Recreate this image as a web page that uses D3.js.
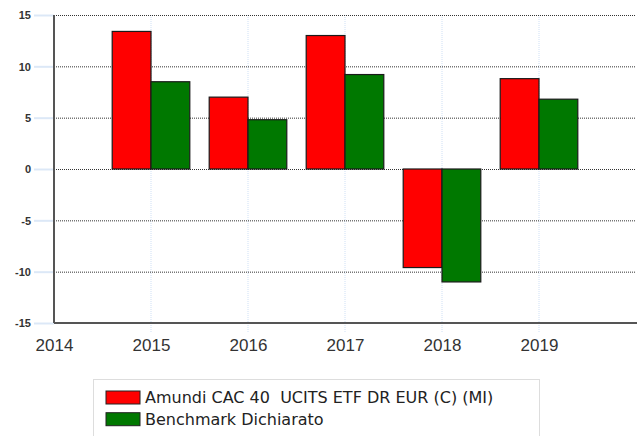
<!DOCTYPE html>
<html>
<head>
<meta charset="utf-8">
<script src="https://cdn.jsdelivr.net/npm/d3@7"></script>
<style>
  body { margin: 0; background: #fff; }
  svg { display: block; font-family: "DejaVu Sans", Verdana, sans-serif; }
</style>
</head>
<body>
<div id="chart"></div>
<script>
const width = 637;
const height = 436;

const years = [2015, 2016, 2017, 2018, 2019];
const fundValues = [13.4, 7.0, 13.0, -9.6, 8.8];
const benchValues = [8.5, 4.8, 9.2, -11.0, 6.8];
const seriesNames = ["Amundi CAC 40  UCITS ETF DR EUR (C) (MI)", "Benchmark Dichiarato"];
const seriesColors = ["#ff0000", "#007800"];
const yTicks = [-15, -10, -5, 0, 5, 10, 15];
const xTicks = [2014, 2015, 2016, 2017, 2018, 2019];

const margin = { top: 15, right: 1, bottom: 113, left: 54 };

const x = d3.scaleLinear()
    .domain([2014, 2020])
    .range([margin.left, width - margin.right]);

const y = d3.scaleLinear()
    .domain([-15, 15])
    .range([height - margin.bottom, margin.top]);

const svg = d3.select("#chart")
    .append("svg")
    .attr("width", width)
    .attr("height", height);

// vertical grid (light blue dotted)
svg.append("g")
    .selectAll("line")
    .data(xTicks.slice(1))
    .join("line")
    .attr("x1", d => x(d)).attr("x2", d => x(d))
    .attr("y1", margin.top).attr("y2", y(-15) + 10)
    .attr("stroke", "#cfe0f5")
    .attr("stroke-dasharray", "1,1");

// horizontal grid (black dotted)
svg.append("g")
    .selectAll("line")
    .data(yTicks.filter(d => d !== -15))
    .join("line")
    .attr("x1", x(2014)).attr("x2", width - margin.right)
    .attr("y1", d => y(d) + 0.5).attr("y2", d => y(d) + 0.5)
    .attr("stroke", "#333")
    .attr("stroke-dasharray", "1,1");

// bars
const barW = 0.4;
const bars = svg.append("g");
years.forEach((yr, i) => {
    [fundValues[i], benchValues[i]].forEach((v, s) => {
        const x0 = s === 0 ? x(yr - barW) : x(yr);
        const x1 = s === 0 ? x(yr) : x(yr + barW);
        bars.append("rect")
            .attr("x", x0)
            .attr("y", Math.min(y(v), y(0)))
            .attr("width", x1 - x0)
            .attr("height", Math.abs(y(v) - y(0)))
            .attr("fill", seriesColors[s])
            .attr("stroke", "#1a1a1a")
            .attr("stroke-width", 1.2);
    });
});

// y axis
const yAxis = svg.append("g")
    .attr("transform", `translate(${margin.left},0)`)
    .call(d3.axisLeft(y).tickValues(yTicks).tickFormat(d => String(d)).tickSize(20).tickPadding(3));
yAxis.select(".domain").remove();
yAxis.selectAll(".tick line").attr("stroke", "#dce8f7").attr("stroke-width", 2);
yAxis.selectAll(".tick text")
    .attr("fill", "#333")
    .style("font-size", "11px")
    .attr("font-weight", "bold")
    .attr("dy", "0.35em");

// x axis
const xAxis = svg.append("g")
    .attr("transform", `translate(0,${y(-15)})`)
    .call(d3.axisBottom(x).tickValues(xTicks).tickFormat(d3.format("d")).tickSize(0).tickPadding(16));
xAxis.select(".domain").remove();
xAxis.selectAll(".tick text")
    .attr("fill", "#333")
    .style("font-family", "'Liberation Sans', Arial, sans-serif")
    .style("font-size", "17px")
    .attr("dy", "0.71em");

// axis lines
svg.append("line")
    .attr("x1", x(2014)).attr("x2", x(2014))
    .attr("y1", margin.top).attr("y2", y(-15))
    .attr("stroke", "#555").attr("stroke-width", 2);
svg.append("line")
    .attr("x1", x(2014)).attr("x2", width)
    .attr("y1", y(-15)).attr("y2", y(-15))
    .attr("stroke", "#555").attr("stroke-width", 2);

// legend
const legend = svg.append("g").attr("transform", "translate(93,379)");
legend.append("rect")
    .attr("x", 0.5).attr("y", 0.5)
    .attr("width", 446).attr("height", 70)
    .attr("fill", "none")
    .attr("stroke", "#ddd");
seriesNames.forEach((name, i) => {
    const g = legend.append("g").attr("transform", `translate(13,${12 + i * 21.7})`);
    g.append("rect")
        .attr("width", 34).attr("height", 13)
        .attr("fill", seriesColors[i])
        .attr("stroke", "#222");
    g.append("text")
        .attr("x", 39).attr("y", 6.5)
        .attr("dy", "0.35em")
        .attr("fill", "#222")
        .style("font-size", "16px")
        .style("white-space", "pre")
        .text(name);
});
</script>
</body>
</html>
